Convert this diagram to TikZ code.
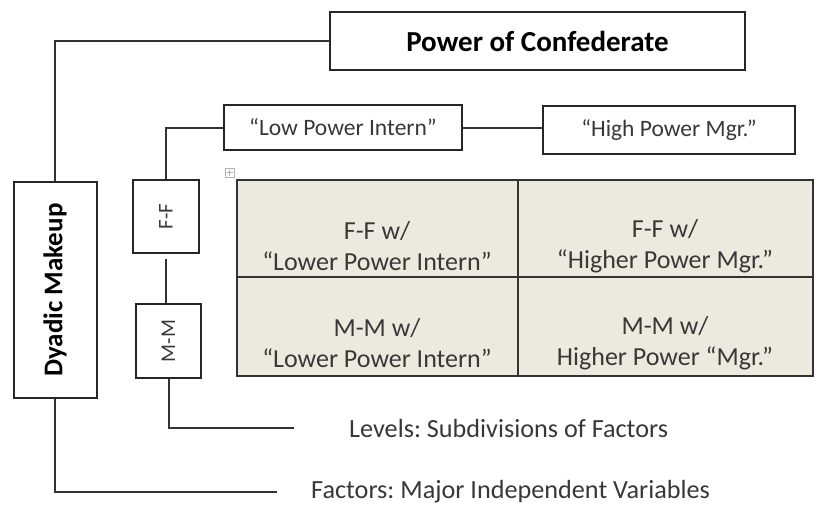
\documentclass[tikz,border=0pt]{standalone}
\usepackage{fontspec}
\setmainfont{Carlito}
\begin{document}
\frenchspacing
\begin{tikzpicture}[x=1pt,y=-1pt,
  box/.style={draw=black!85,line width=2pt,inner sep=0pt,fill=white},
  conn/.style={draw=black!80,line width=2pt},
  txt/.style={text=black!78,font=\fontsize{26.2}{30}\selectfont},
  celltxt/.style={text=black!78,font=\fontsize{26}{31}\selectfont,align=center}]
\useasboundingbox (0,0) rectangle (818,512);
% table
\fill[fill={rgb,255:red,236;green,233;blue,223}] (237,180) rectangle (813,376);
\draw[black!80,line width=2pt] (237,180) rectangle (813,376) (518,180) -- (518,376) (237,277) -- (813,277);
\node[celltxt] (c11) at (377,246) {F-F w/\\“Lower Power Intern”};
\node[celltxt] (c12) at (665,246) {F-F w/\\“Higher Power Mgr.”};
\node[celltxt] (c21) at (377,343) {M-M w/\\“Lower Power Intern”};
\node[celltxt] (c22) at (665,343) {M-M w/\\Higher Power “Mgr.”};
% table handle
\draw[black!30,line width=0.6pt] (225,168) rectangle (234,177) (229.5,169.5) -- (229.5,175.5) (226.5,172.5) -- (232.5,172.5);
% boxes
\node[box,minimum width=415pt,minimum height=58pt,font=\bfseries\fontsize{29}{33}\selectfont] (pc) at (537.5,41) {Power of Confederate};
\node[box,minimum width=238pt,minimum height=45pt,txt,font=\fontsize{23.5}{27}\selectfont] (low) at (343,127.5) {“Low Power Intern”};
\node[box,minimum width=252pt,minimum height=48pt,txt,font=\fontsize{23.5}{27}\selectfont] (high) at (669,130) {“High Power Mgr.”};
\node[box,minimum width=83pt,minimum height=216pt] (dy) at (55,290) {};
\node[rotate=90,font=\bfseries\fontsize{27}{31}\selectfont] at (dy) {Dyadic Makeup};
\node[box,minimum width=66pt,minimum height=73pt] (ff) at (166,216.5) {};
\node[rotate=90,txt,font=\fontsize{21}{25}\selectfont] at (ff) {F-F};
\node[box,minimum width=65pt,minimum height=74pt] (mm) at (168.5,341) {};
\node[rotate=90,txt,font=\fontsize{21}{25}\selectfont] at (mm) {M-M};
% labels
\node[txt,anchor=west,inner sep=0pt] (lev) at (349,428) {Levels: Subdivisions of Factors};
\node[txt,anchor=west,inner sep=0pt] (fac) at (311,492) {Factors: Major Independent Variables};
\coordinate (levend) at (294,428);
\coordinate (facend) at (277,492);
% connectors
\draw[conn] (pc.west) -| (dy.north);
\draw[conn] (low.west) -| (ff.north);
\draw[conn] (low.east) -- (high.west |- low.east);
\draw[conn] ([yshift=-5pt]ff.south) -- (ff.south |- mm.north);
\draw[conn] (mm.south) |- (levend);
\draw[conn] (dy.south) |- (facend);
\end{tikzpicture}
\end{document}
